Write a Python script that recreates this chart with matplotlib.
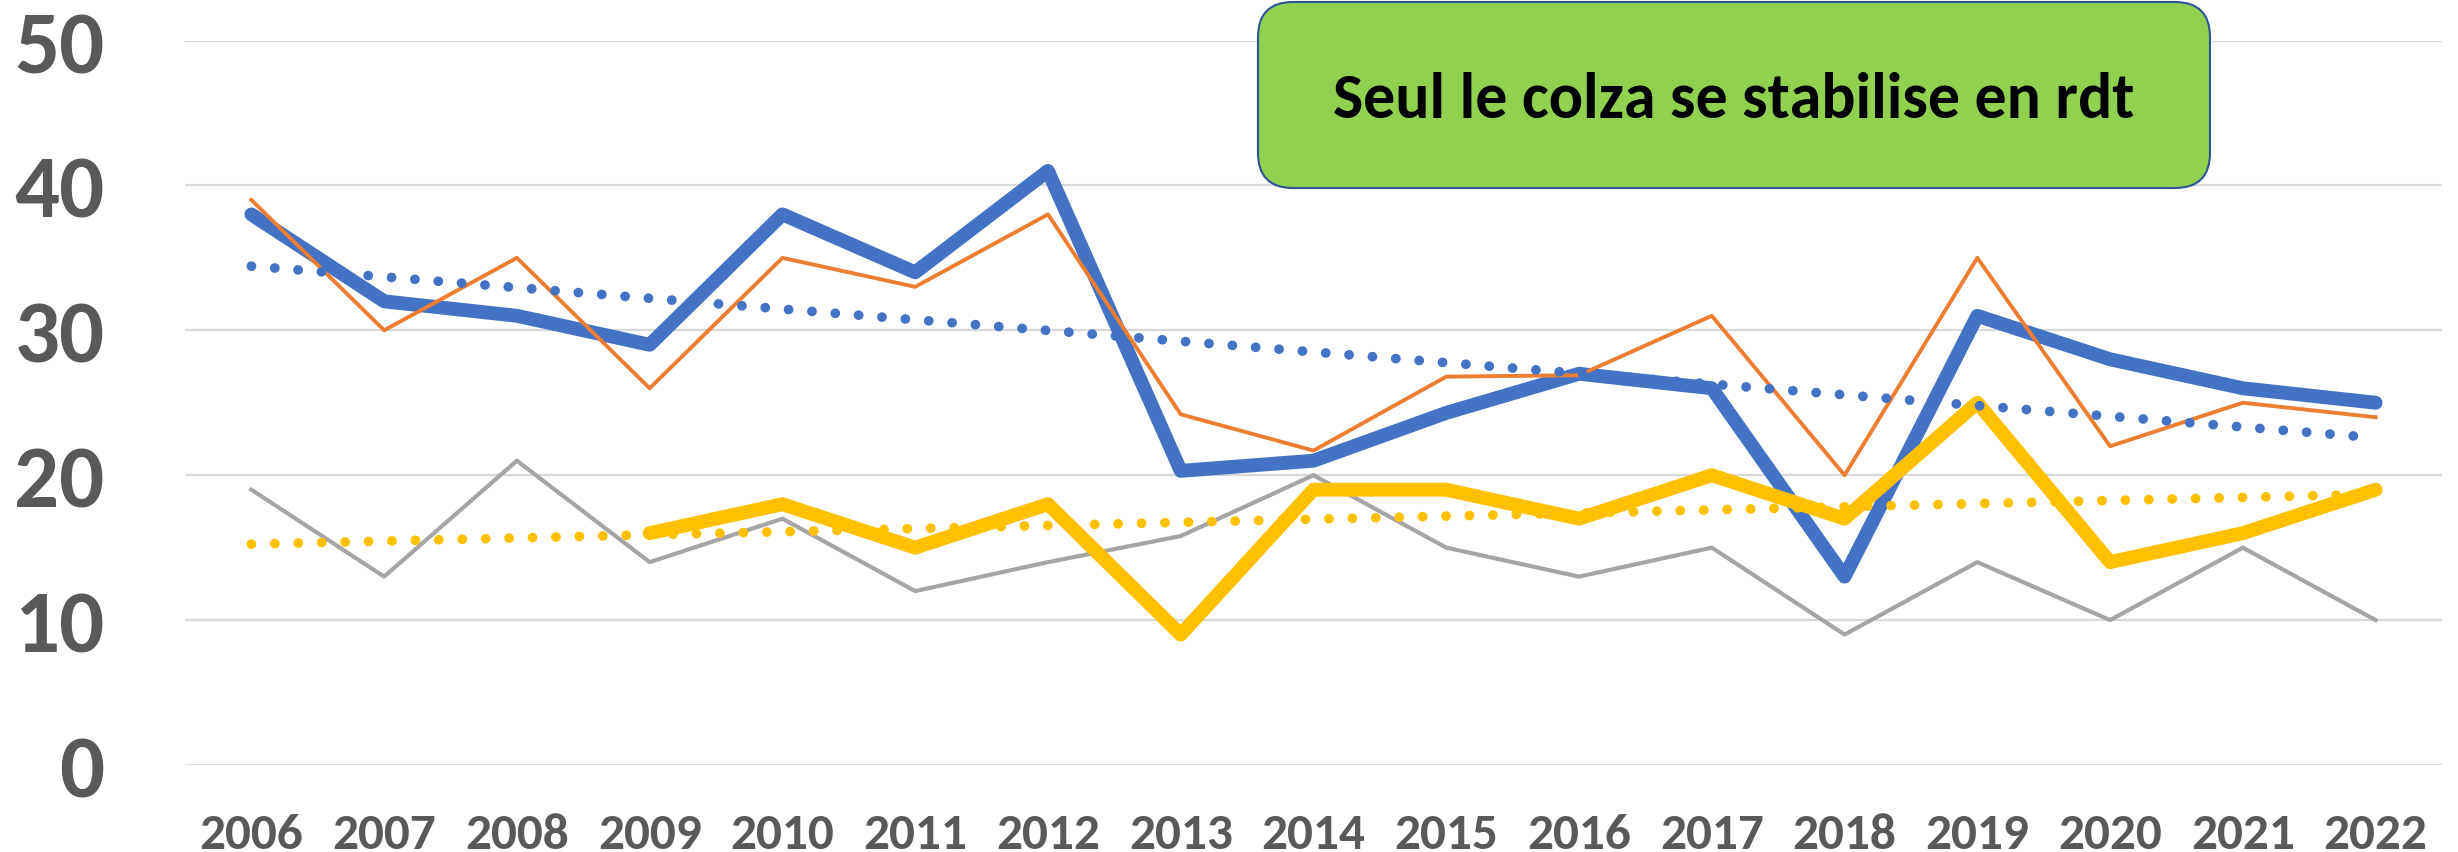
import numpy as np
import matplotlib.pyplot as plt
import matplotlib.font_manager as fm
from matplotlib.patches import FancyBboxPatch

years = list(range(2006, 2023))
blue = [38, 32, 31, 29, 38, 34, 41, 20.3, 21, 24.3, 27, 26, 13, 31, 28, 26, 25]
orange = [39, 30, 35, 26, 35, 33, 38, 24.2, 21.7, 26.8, 26.9, 31, 20, 35, 22, 25, 24]
grey = [19, 13, 21, 14, 17, 12, 14, 15.8, 20, 15, 13, 15, 9, 14, 10, 15, 10]
yellow = [np.nan, np.nan, np.nan, 16, 18, 15, 18, 9, 19, 19, 17, 20, 17, 25, 14, 16, 19]
yticks = [0, 10, 20, 30, 40, 50]
note = "Seul le colza se stabilise en rdt"

# calibri-like font if there is one
avail = {f.name for f in fm.fontManager.ttflist}
font = next(f for f in ['Carlito', 'PT Sans Narrow', 'Open Sans Condensed', 'DejaVu Sans'] if f in avail)

x = np.array(years)
fig = plt.figure(figsize=(24.58, 8.53), dpi=100)
ax = fig.add_axes([185/2458, 1 - 766/853, (2442 - 185)/2458, (766 - 41.5)/853])

ax.plot(x, blue, color='#4472C4', lw=10, solid_capstyle='round', zorder=3)
ax.plot(x, orange, color='#ED7D31', lw=2.8, zorder=4)
ax.plot(x, grey, color='#A5A5A5', lw=3, zorder=4)
ax.plot(x, yellow, color='#FFC000', lw=10, solid_capstyle='round', zorder=5)

# linear trendlines, like excel
for ser, col in [(blue, '#4472C4'), (yellow, '#FFC000')]:
    y = np.array(ser, dtype=float)
    ok = ~np.isnan(y)
    a, b = np.polyfit(x[ok], y[ok], 1)
    ax.plot(x, a * x + b, color=col, lw=7, linestyle=(0, (0.01, 2.4)),
            dash_capstyle='round', zorder=6)

ax.set_xlim(2005.5, 2022.5)
ax.set_ylim(0, 50)
ax.set_xticks(years)
ax.set_xticklabels([str(v) for v in years])
ax.set_yticks(yticks)
ax.grid(axis='y', color='#D9D9D9', lw=1.6)
ax.set_axisbelow(True)
for s in ax.spines.values():
    s.set_visible(False)
ax.tick_params(length=0)
ax.tick_params(axis='x', pad=34, labelsize=37, labelcolor='#595959')
ax.tick_params(axis='y', pad=58, labelsize=64, labelcolor='#595959')
for t in ax.get_xticklabels() + ax.get_yticklabels():
    t.set_fontweight('bold')
    t.set_family(font)

box = FancyBboxPatch((12.58, 6.64), 9.52, 1.86, boxstyle='round,pad=0,rounding_size=0.35',
                     transform=fig.dpi_scale_trans, facecolor='#92D050',
                     edgecolor='#2F5597', lw=1.5, zorder=10)
fig.patches.append(box)
fig.text(17.34, 7.53, note, transform=fig.dpi_scale_trans, ha='center', va='center',
         fontsize=46, fontweight='bold', family=font, color='black', zorder=11)

fig.savefig('out.png', dpi=100)
